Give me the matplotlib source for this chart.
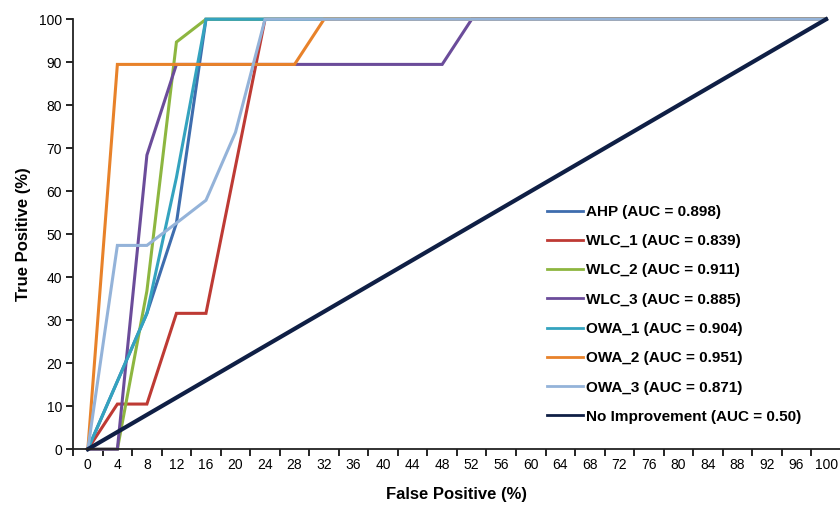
import matplotlib
import matplotlib.pyplot as plt

matplotlib.use('Agg')
plt.rcParams['font.family'] = ['Liberation Sans', 'DejaVu Sans']

# false positive categories (%)
fp = [0, 4, 8, 12, 16, 20, 24, 28, 32, 36, 40, 44, 48, 52,
      56, 60, 64, 68, 72, 76, 80, 84, 88, 92, 96, 100]

ahp = [0, 15.8, 31.6, 52.6, 100, 100, 100, 100, 100, 100, 100, 100, 100,
       100, 100, 100, 100, 100, 100, 100, 100, 100, 100, 100, 100, 100]
wlc_1 = [0, 10.5, 10.5, 31.6, 31.6, 65.8, 100, 100, 100, 100, 100, 100, 100,
         100, 100, 100, 100, 100, 100, 100, 100, 100, 100, 100, 100, 100]
wlc_2 = [0, 0, 36.8, 94.7, 100, 100, 100, 100, 100, 100, 100, 100, 100,
         100, 100, 100, 100, 100, 100, 100, 100, 100, 100, 100, 100, 100]
wlc_3 = [0, 0, 68.4, 89.5, 89.5, 89.5, 89.5, 89.5, 89.5, 89.5, 89.5, 89.5, 89.5,
         100, 100, 100, 100, 100, 100, 100, 100, 100, 100, 100, 100, 100]
owa_1 = [0, 15.8, 31.6, 63.2, 100, 100, 100, 100, 100, 100, 100, 100, 100,
         100, 100, 100, 100, 100, 100, 100, 100, 100, 100, 100, 100, 100]
owa_2 = [0, 89.5, 89.5, 89.5, 89.5, 89.5, 89.5, 89.5, 100, 100, 100, 100, 100,
         100, 100, 100, 100, 100, 100, 100, 100, 100, 100, 100, 100, 100]
owa_3 = [0, 47.4, 47.4, 52.6, 57.9, 73.7, 100, 100, 100, 100, 100, 100, 100,
         100, 100, 100, 100, 100, 100, 100, 100, 100, 100, 100, 100, 100]
no_impr = [0, 4, 8, 12, 16, 20, 24, 28, 32, 36, 40, 44, 48, 52,
           56, 60, 64, 68, 72, 76, 80, 84, 88, 92, 96, 100]

labels = ['AHP (AUC = 0.898)', 'WLC_1 (AUC = 0.839)', 'WLC_2 (AUC = 0.911)',
          'WLC_3 (AUC = 0.885)', 'OWA_1 (AUC = 0.904)', 'OWA_2 (AUC = 0.951)',
          'OWA_3 (AUC = 0.871)', 'No Improvement (AUC = 0.50)']
colors = ['#3E6DAE', '#BE3A34', '#8DB640', '#6B4C9A',
          '#34A3BF', '#E8822A', '#94B3D9', '#0F1F45']
series = [ahp, wlc_1, wlc_2, wlc_3, owa_1, owa_2, owa_3, no_impr]

fig = plt.figure(figsize=(8.4, 5.07), dpi=100)
ax = fig.add_axes([0.087, 0.114, 0.914, 0.848])

for s, lab, c in zip(series, labels, colors):
    lw = 3.0 if c == '#0F1F45' else 2.2
    ax.plot(fp, s, color=c, lw=lw, label=lab, clip_on=False,
            solid_joinstyle='miter')

ax.set_xlim(-2, 102)
ax.set_ylim(0, 100)
ax.set_xticks(fp)
ax.set_xticks(range(-2, 103, 4), minor=True)
ax.set_yticks(range(0, 101, 10))
ax.tick_params(axis='x', which='major', length=0, pad=6, labelsize=10)
ax.tick_params(axis='x', which='minor', length=5, width=1.2, direction='out')
ax.tick_params(axis='y', length=5, width=1.2, labelsize=10, pad=3)
for sp in ['top', 'right']:
    ax.spines[sp].set_visible(False)
for sp in ['left', 'bottom']:
    ax.spines[sp].set_linewidth(1.3)
    ax.spines[sp].set_color('#222222')

ax.set_xlabel('False Positive (%)', fontsize=12, fontweight='bold', labelpad=11)
ax.set_ylabel('True Positive (%)', fontsize=12, fontweight='bold', labelpad=6)

leg = ax.legend(loc='upper left', bbox_to_anchor=(0.6345, 0.623),
                bbox_transform=fig.transFigure, frameon=False,
                prop={'weight': 'bold', 'size': 11}, handlelength=2.35,
                handletextpad=0.2, labelspacing=1.0)
for h in leg.get_lines():
    h.set_linewidth(2)

fig.savefig('out.png', dpi=100)
